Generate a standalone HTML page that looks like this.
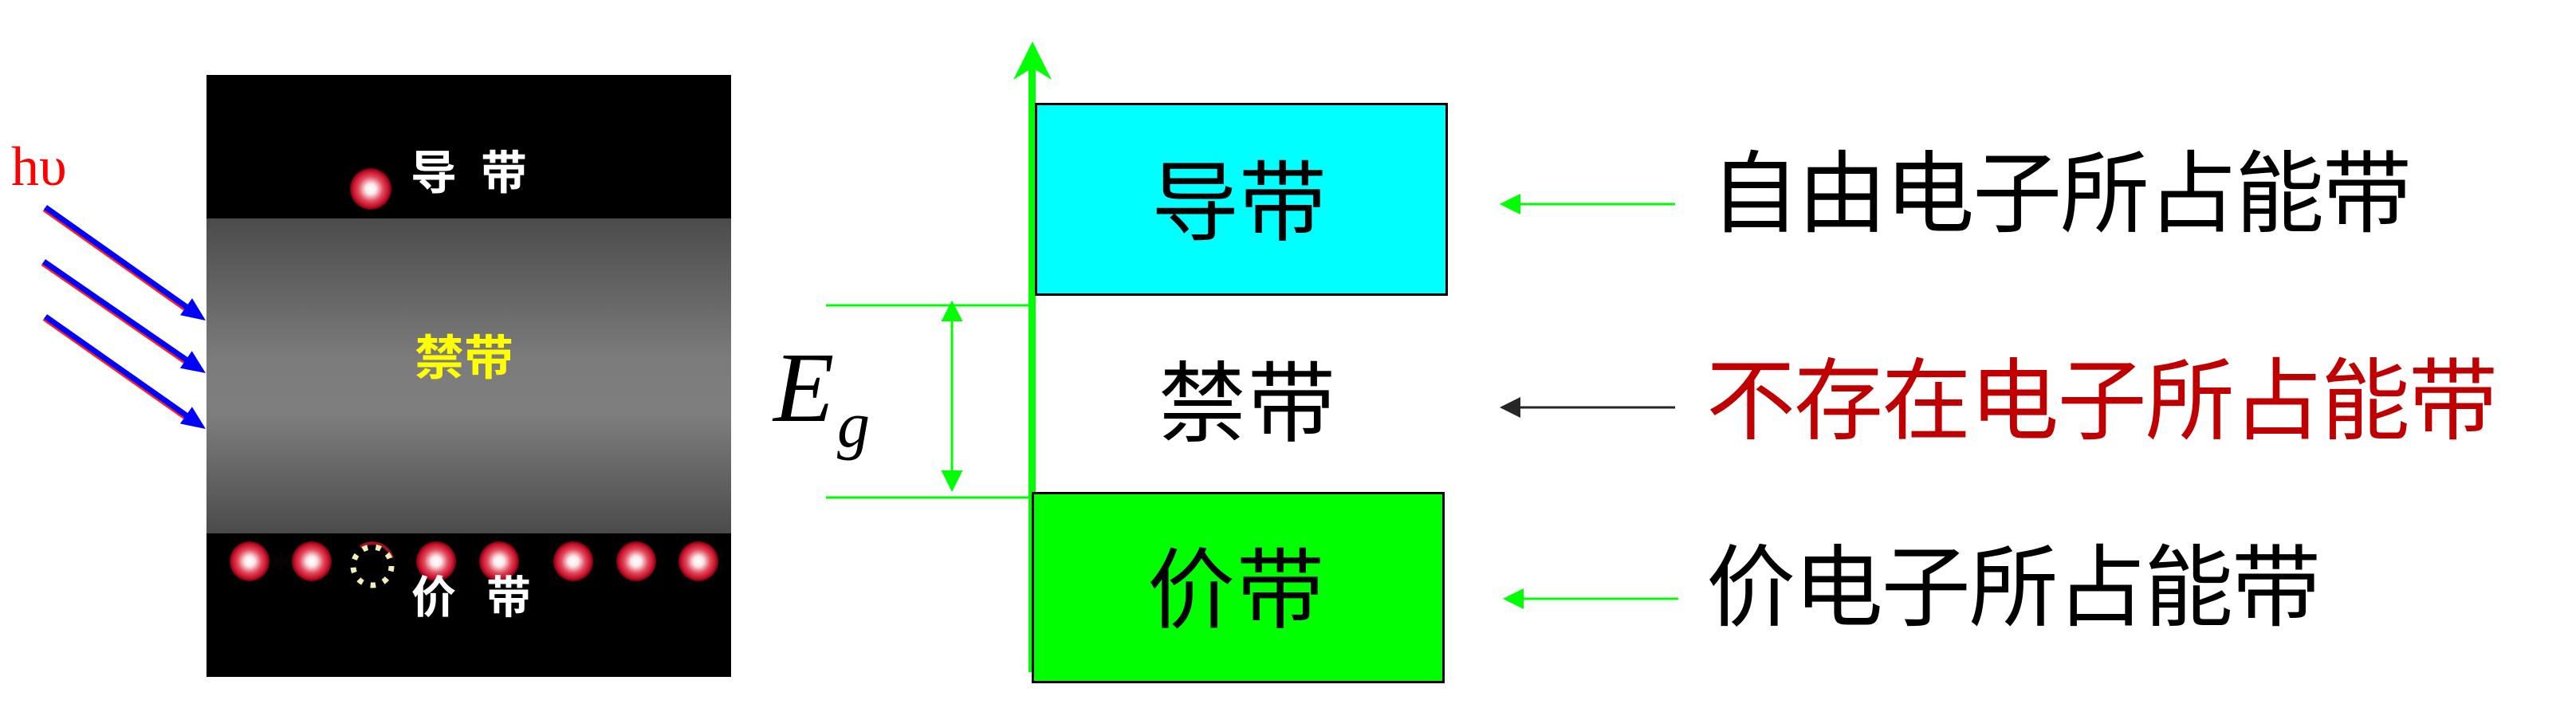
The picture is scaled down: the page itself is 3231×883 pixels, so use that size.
<!DOCTYPE html>
<html>
<head>
<meta charset="utf-8">
<style>
  html, body { margin:0; padding:0; background:#ffffff; }
  body { width:3231px; height:883px; overflow:hidden; }
  svg { display:block; }
  .cjk { font-family: "Liberation Sans", "Noto Sans CJK SC", "WenQuanYi Zen Hei", sans-serif; }
</style>
</head>
<body>
<svg width="3231" height="883" viewBox="0 0 3231 883" xmlns="http://www.w3.org/2000/svg">
  <defs>
    <linearGradient id="gap" x1="0" y1="0" x2="0" y2="1">
      <stop offset="0" stop-color="#4b4b4b"/>
      <stop offset="0.45" stop-color="#7c7c7c"/>
      <stop offset="0.62" stop-color="#7e7e7e"/>
      <stop offset="1" stop-color="#4b4b4b"/>
    </linearGradient>
    <radialGradient id="ball" cx="50%" cy="50%" r="50%">
      <stop offset="0" stop-color="#ffffff"/>
      <stop offset="0.25" stop-color="#fbe9ec"/>
      <stop offset="0.6" stop-color="#e04a5c"/>
      <stop offset="0.85" stop-color="#c8102a"/>
      <stop offset="1" stop-color="#70000e"/>
    </radialGradient>
  </defs>

  <!-- ===== Left panel ===== -->
  <rect x="259" y="94" width="658" height="755" fill="#000000"/>
  <rect x="259" y="274" width="658" height="395" fill="url(#gap)"/>

  <!-- conduction electron -->
  <circle cx="465" cy="237" r="26" fill="url(#ball)"/>
  <text x="515" y="237" font-size="58" font-weight="bold" fill="#ffffff" class="cjk">导</text>
  <text x="603" y="237" font-size="58" font-weight="bold" fill="#ffffff" class="cjk">带</text>

  <!-- forbidden band label -->
  <text x="520" y="470" font-size="60" font-weight="bold" fill="#ffff00" class="cjk" textLength="124" lengthAdjust="spacingAndGlyphs">禁带</text>

  <!-- valence electrons -->
  <circle cx="313" cy="704" r="25" fill="url(#ball)"/>
  <circle cx="391" cy="704" r="25" fill="url(#ball)"/>
  <circle cx="547" cy="704" r="25" fill="url(#ball)"/>
  <circle cx="626" cy="704" r="25" fill="url(#ball)"/>
  <circle cx="719" cy="704" r="25" fill="url(#ball)"/>
  <circle cx="798" cy="704" r="25" fill="url(#ball)"/>
  <circle cx="876" cy="704" r="25" fill="url(#ball)"/>
  <!-- hole -->
  <path d="M 452 686 A 26 26 0 0 1 492 700" fill="none" stroke="#a01020" stroke-width="4"/>
  <circle cx="467" cy="710" r="24" fill="none" stroke="#f3edb6" stroke-width="7" stroke-dasharray="6.5 10.25"/>

  <text x="516" y="769" font-size="56" font-weight="bold" fill="#ffffff" class="cjk">价</text>
  <text x="610" y="769" font-size="56" font-weight="bold" fill="#ffffff" class="cjk">带</text>

  <!-- h nu -->
  <text x="14" y="232" font-size="70" fill="#ff0000" font-family="'Liberation Serif', 'DejaVu Serif', serif">hυ</text>

  <!-- blue arrows (red fringe underneath) -->
  <g stroke-linecap="butt">
    <line x1="55.6" y1="262" x2="232" y2="386.7" stroke="#ff2020" stroke-width="7"/>
    <line x1="57" y1="260" x2="236" y2="386.4" stroke="#0000ff" stroke-width="7"/>
    <polygon points="258,402 226,395.3 241,374.1" fill="#0000ff"/>

    <line x1="53.6" y1="330" x2="232" y2="453" stroke="#ff2020" stroke-width="7"/>
    <line x1="55" y1="328" x2="236" y2="452.8" stroke="#0000ff" stroke-width="7"/>
    <polygon points="258,468 225.9,461.7 240.7,440.3" fill="#0000ff"/>

    <line x1="55.6" y1="399" x2="232" y2="522.8" stroke="#ff2020" stroke-width="7"/>
    <line x1="57" y1="397" x2="236" y2="522.6" stroke="#0000ff" stroke-width="7"/>
    <polygon points="258,538 225.9,531.4 240.9,510.2" fill="#0000ff"/>
  </g>

  <!-- ===== Middle diagram ===== -->
  <line x1="1036" y1="383" x2="1292" y2="383" stroke="#00ff00" stroke-width="3"/>
  <line x1="1036" y1="624" x2="1294" y2="624" stroke="#00ff00" stroke-width="3"/>
  <line x1="1194" y1="400" x2="1194" y2="594" stroke="#00ff00" stroke-width="3"/>
  <polygon points="1194,377 1180.5,403 1207.5,403" fill="#00ff00"/>
  <polygon points="1194,617 1180.5,590 1207.5,590" fill="#00ff00"/>

  <!-- E_g -->
  <text x="970" y="528" font-size="125" font-style="italic" fill="#000000" font-family="'Liberation Serif', 'DejaVu Serif', serif">E</text>
  <text x="1050" y="560" font-size="82" font-style="italic" fill="#000000" font-family="'Liberation Serif', 'DejaVu Serif', serif">g</text>

  <!-- energy axis -->
  <line x1="1294.5" y1="84" x2="1294.5" y2="843" stroke="#00ff00" stroke-width="9"/>
  <polygon points="1295,52 1319,100 1295,85 1271,100" fill="#00ff00"/>

  <!-- conduction band box -->
  <rect x="1299.5" y="130.5" width="515" height="239" fill="#00ffff" stroke="#000000" stroke-width="3"/>
  <text x="1444" y="293" font-size="110" fill="#000000" class="cjk" textLength="220" lengthAdjust="spacing">导带</text>

  <!-- forbidden band label -->
  <text x="1453" y="545" font-size="110" fill="#000000" class="cjk" textLength="222" lengthAdjust="spacing">禁带</text>

  <!-- valence band box -->
  <rect x="1295.5" y="618.5" width="515" height="237" fill="#00ff00" stroke="#000000" stroke-width="3"/>
  <text x="1439" y="779" font-size="110" fill="#000000" class="cjk" textLength="222" lengthAdjust="spacing">价带</text>

  <!-- ===== Right side annotations ===== -->
  <line x1="1900" y1="256" x2="2101" y2="256" stroke="#00ff00" stroke-width="3"/>
  <polygon points="1881,256 1907,243 1907,269" fill="#00ff00"/>
  <text x="2145" y="282" font-size="112" fill="#000000" class="cjk" textLength="880" lengthAdjust="spacing">自由电子所占能带</text>

  <line x1="1900" y1="511" x2="2101" y2="511" stroke="#262626" stroke-width="3"/>
  <polygon points="1881,511 1907,498 1907,524" fill="#262626"/>
  <text x="2140" y="542" font-size="112" fill="#c00000" class="cjk" textLength="993" lengthAdjust="spacing">不存在电子所占能带</text>

  <line x1="1904" y1="751" x2="2105" y2="751" stroke="#00ff00" stroke-width="3"/>
  <polygon points="1885,751 1911,738 1911,764" fill="#00ff00"/>
  <text x="2140" y="776" font-size="112" fill="#000000" class="cjk" textLength="771" lengthAdjust="spacing">价电子所占能带</text>
</svg>
</body>
</html>
